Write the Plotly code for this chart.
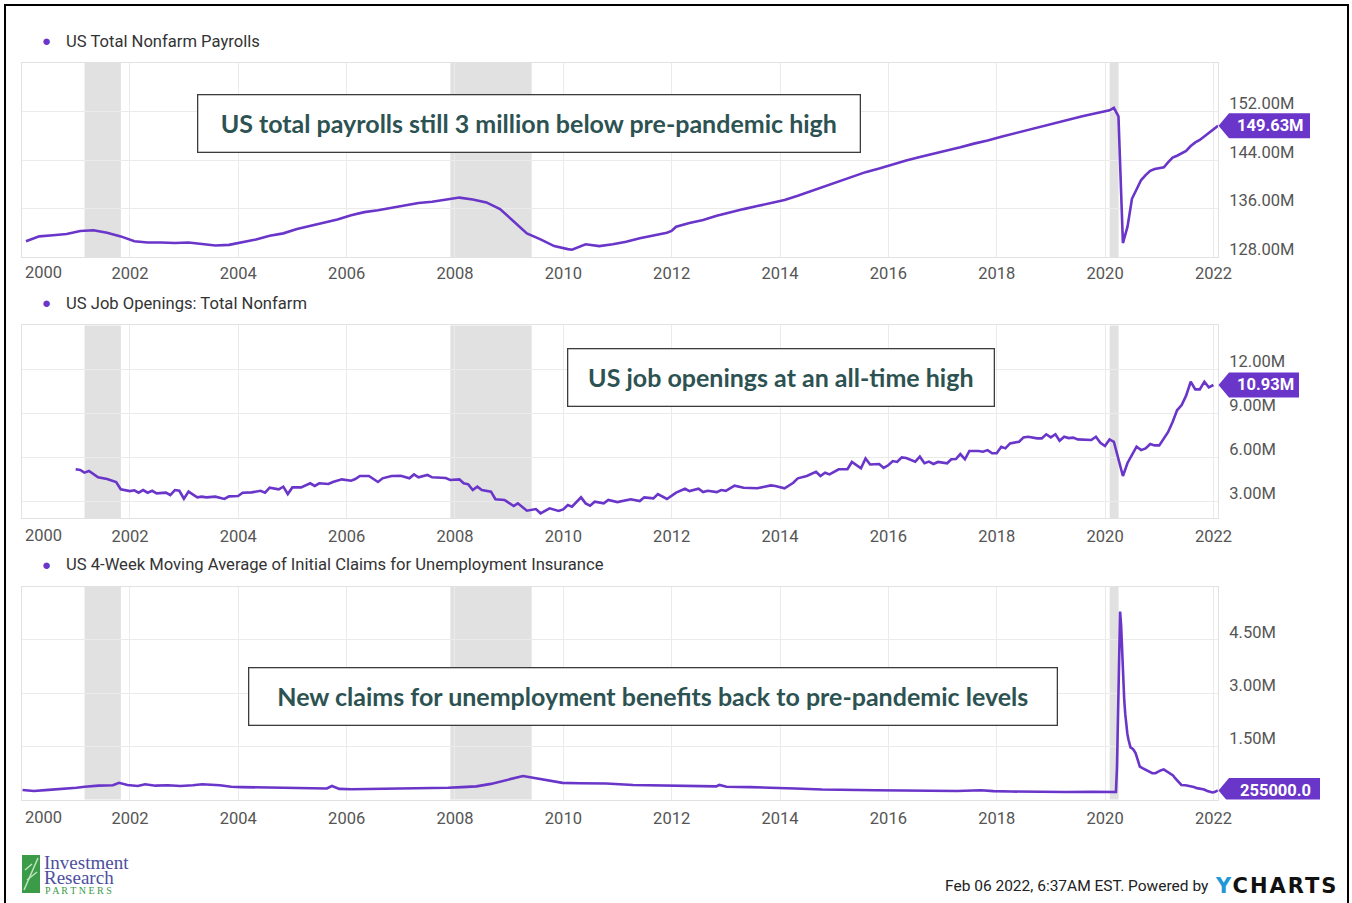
import pandas as pd
import plotly.graph_objects as go

W, H = 1352, 903
PURPLE = "#6a35c9"
TEAL = "#2d5252"

# ---------------- data ----------------
payroll_months = [
    "2000-01", "2000-04", "2000-07", "2000-10", "2001-01", "2001-04", "2001-07", "2001-10",
    "2002-01", "2002-04", "2002-07", "2002-10", "2003-01", "2003-04", "2003-07", "2003-10",
    "2004-01", "2004-04", "2004-07", "2004-10", "2005-01", "2005-04", "2005-07", "2005-10",
    "2006-01", "2006-04", "2006-07", "2006-10", "2007-01", "2007-04", "2007-07", "2007-10",
    "2008-01", "2008-04", "2008-07", "2008-10", "2009-01", "2009-04", "2009-07", "2009-10",
    "2010-01", "2010-02", "2010-05", "2010-08", "2010-11", "2011-02", "2011-05", "2011-08",
    "2011-11", "2011-12", "2012-01", "2012-04", "2012-07", "2012-10", "2013-01", "2013-04",
    "2013-07", "2013-10", "2014-01", "2014-04", "2014-07", "2014-10", "2015-01", "2015-04",
    "2015-07", "2015-10", "2016-01", "2016-04", "2016-07", "2016-10", "2017-01", "2017-04",
    "2017-07", "2017-10", "2018-01", "2018-04", "2018-07", "2018-10", "2019-01", "2019-04",
    "2019-07", "2019-10", "2020-01", "2020-02", "2020-03", "2020-04", "2020-05", "2020-06",
    "2020-07", "2020-08", "2020-09", "2020-10", "2020-11", "2020-12", "2021-01", "2021-02",
    "2021-03", "2021-04", "2021-05", "2021-06", "2021-07", "2021-08", "2021-09", "2021-10",
    "2021-11", "2021-12", "2022-01",
]
payroll_values = [
    130.6, 131.4, 131.6, 131.8, 132.3, 132.4, 132.0, 131.4,
    130.6, 130.4, 130.4, 130.3, 130.4, 130.1, 129.9, 130.0,
    130.4, 130.9, 131.5, 131.9, 132.6, 133.1, 133.7, 134.2,
    134.9, 135.4, 135.7, 136.1, 136.6, 136.9, 137.1, 137.4,
    137.8, 137.5, 137.0, 135.9, 133.9, 131.9, 130.9, 129.8,
    129.3, 129.2, 130.1, 129.8, 130.1, 130.5, 131.1, 131.5,
    132.0, 132.3, 133.0, 133.6, 134.1, 134.8, 135.4, 135.9,
    136.4, 136.9, 137.4, 138.1, 138.9, 139.7, 140.5, 141.2,
    142.0, 142.6, 143.3, 143.9, 144.5, 145.0, 145.6, 146.1,
    146.7, 147.2, 147.85, 148.4, 149.0, 149.6, 150.2, 150.7,
    151.2, 151.7, 152.2, 152.6, 151.2, 130.3, 133.0, 137.6,
    139.2, 140.7, 141.5, 142.2, 142.5, 142.6, 142.8, 143.6,
    144.4, 144.7, 145.1, 145.5, 146.3, 146.9, 147.3, 147.9,
    148.5, 149.1, 149.63,
]

job_months = [
    "2000-12", "2001-01", "2001-02", "2001-03", "2001-05", "2001-07", "2001-09", "2001-10",
    "2001-12", "2002-01", "2002-02", "2002-03", "2002-04", "2002-05", "2002-06", "2002-08",
    "2002-09", "2002-10", "2002-11", "2002-12", "2003-01", "2003-03", "2003-04", "2003-05",
    "2003-07", "2003-09", "2003-10", "2003-12", "2004-01", "2004-03", "2004-05", "2004-06",
    "2004-07", "2004-09", "2004-10", "2004-11", "2004-12", "2005-02", "2005-04", "2005-05",
    "2005-06", "2005-08", "2005-09", "2005-11", "2006-01", "2006-02", "2006-03", "2006-05",
    "2006-07", "2006-08", "2006-10", "2006-12", "2007-02", "2007-03", "2007-04", "2007-06",
    "2007-07", "2007-10", "2007-11", "2008-01", "2008-02", "2008-03", "2008-04", "2008-05",
    "2008-06", "2008-08", "2008-09", "2008-11", "2009-01", "2009-02", "2009-04", "2009-05",
    "2009-06", "2009-07", "2009-09", "2009-11", "2009-12", "2010-01", "2010-02", "2010-04",
    "2010-05", "2010-06", "2010-07", "2010-09", "2010-10", "2010-12", "2011-03", "2011-05",
    "2011-06", "2011-08", "2011-09", "2011-11", "2012-01", "2012-03", "2012-04", "2012-06",
    "2012-07", "2012-08", "2012-10", "2012-11", "2012-12", "2013-02", "2013-04", "2013-07",
    "2013-10", "2013-11", "2014-01", "2014-03", "2014-04", "2014-06", "2014-08", "2014-09",
    "2014-10", "2014-11", "2015-01", "2015-03", "2015-04", "2015-06", "2015-07", "2015-08",
    "2015-10", "2015-11", "2015-12", "2016-01", "2016-02", "2016-03", "2016-04", "2016-06",
    "2016-07", "2016-08", "2016-09", "2016-10", "2016-11", "2017-01", "2017-02", "2017-03",
    "2017-04", "2017-05", "2017-06", "2017-08", "2017-09", "2017-10", "2017-11", "2017-12",
    "2018-01", "2018-02", "2018-03", "2018-05", "2018-06", "2018-07", "2018-09", "2018-10",
    "2018-11", "2018-12", "2019-01", "2019-02", "2019-03", "2019-04", "2019-05", "2019-06",
    "2019-08", "2019-09", "2019-10", "2019-11", "2019-12", "2020-01", "2020-02", "2020-03",
    "2020-04", "2020-05", "2020-06", "2020-07", "2020-08", "2020-09", "2020-10", "2020-11",
    "2020-12", "2021-01", "2021-02", "2021-03", "2021-04", "2021-05", "2021-06", "2021-07",
    "2021-08", "2021-09", "2021-10", "2021-11", "2021-12",
]
job_values = [
    5.17, 5.12, 4.94, 5.05, 4.62, 4.50, 4.30, 3.80,
    3.68, 3.73, 3.57, 3.75, 3.57, 3.70, 3.52, 3.57,
    3.41, 3.75, 3.70, 3.16, 3.64, 3.25, 3.30, 3.25,
    3.30, 3.14, 3.32, 3.34, 3.57, 3.59, 3.70, 3.57,
    3.91, 3.80, 3.98, 3.48, 3.93, 3.93, 4.21, 4.03,
    4.21, 4.16, 4.30, 4.48, 4.39, 4.50, 4.71, 4.71,
    4.30, 4.55, 4.71, 4.73, 4.55, 4.82, 4.62, 4.78,
    4.62, 4.57, 4.44, 4.48, 4.21, 4.14, 3.75, 3.98,
    3.75, 3.64, 3.12, 3.07, 2.66, 2.84, 2.34, 2.38,
    2.45, 2.16, 2.50, 2.32, 2.43, 2.72, 2.61, 3.25,
    2.84, 2.68, 2.95, 2.84, 3.07, 2.93, 3.12, 3.00,
    3.25, 3.18, 3.48, 3.14, 3.57, 3.84, 3.68, 3.84,
    3.61, 3.70, 3.61, 3.75, 3.70, 4.05, 3.91, 3.87,
    4.07, 4.03, 3.87, 4.25, 4.55, 4.71, 5.00, 4.71,
    4.93, 4.82, 5.17, 5.17, 5.67, 5.23, 5.91, 5.50,
    5.53, 5.26, 5.44, 5.73, 5.67, 5.98, 5.94, 5.69,
    6.03, 5.58, 5.69, 5.53, 5.67, 5.58, 5.85, 5.87,
    6.21, 5.85, 6.42, 6.42, 6.37, 6.48, 6.26, 6.26,
    6.71, 6.60, 6.94, 7.05, 7.35, 7.39, 7.28, 7.28,
    7.56, 7.35, 7.56, 7.12, 7.39, 7.30, 7.33, 7.21,
    7.19, 7.17, 7.39, 6.98, 6.76, 7.21, 7.05, 5.90,
    4.71, 5.60, 6.20, 6.71, 6.48, 6.60, 6.90, 6.80,
    6.80, 7.28, 7.70, 8.40, 9.20, 9.56, 10.20, 11.15,
    10.63, 10.63, 11.15, 10.77, 10.93,
]

claims_dates = [
    "2000-01-08", "2000-03-25", "2000-07-01", "2000-10-07", "2001-01-06", "2001-03-03",
    "2001-06-02", "2001-09-08", "2001-10-20", "2001-12-15", "2002-02-23", "2002-04-13",
    "2002-06-22", "2002-09-14", "2002-12-07", "2003-03-01", "2003-05-03", "2003-08-30",
    "2003-11-15", "2004-01-24", "2004-05-01", "2004-08-07", "2004-12-04", "2005-02-12",
    "2005-05-21", "2005-08-20", "2005-09-24", "2005-11-12", "2006-02-04", "2006-07-22",
    "2006-11-11", "2007-03-24", "2007-07-28", "2007-11-17", "2008-02-16", "2008-05-24",
    "2008-08-30", "2008-12-06", "2009-01-31", "2009-03-14", "2009-04-04", "2009-06-20",
    "2009-09-26", "2009-12-26", "2010-04-17", "2010-10-16", "2011-04-16", "2011-10-15",
    "2012-04-14", "2012-10-27", "2012-11-17", "2013-01-05", "2013-06-15", "2013-10-19",
    "2014-04-12", "2014-10-11", "2015-04-11", "2015-10-10", "2016-04-09", "2016-10-08",
    "2017-04-08", "2017-09-16", "2017-12-09", "2018-04-07", "2018-10-06", "2019-04-06",
    "2019-10-05", "2020-01-04", "2020-03-14", "2020-03-21", "2020-03-28", "2020-04-04",
    "2020-04-11", "2020-04-18", "2020-04-25", "2020-05-02", "2020-05-09", "2020-05-16",
    "2020-05-23", "2020-05-30", "2020-06-06", "2020-06-13", "2020-06-20", "2020-07-04",
    "2020-07-11", "2020-07-25", "2020-08-01", "2020-08-15", "2020-08-22", "2020-09-12",
    "2020-10-03", "2020-10-24", "2020-11-14", "2020-12-05", "2020-12-19", "2021-01-09",
    "2021-01-30", "2021-02-20", "2021-03-13", "2021-04-03", "2021-04-17", "2021-05-08",
    "2021-05-29", "2021-06-26", "2021-07-24", "2021-08-21", "2021-09-11", "2021-10-09",
    "2021-10-30", "2021-11-20", "2021-12-04", "2021-12-25", "2022-01-08", "2022-01-22",
    "2022-01-29",
]
claims_values = [
    0.27, 0.24, 0.27, 0.29, 0.33, 0.36,
    0.39, 0.40, 0.47, 0.41, 0.38, 0.43,
    0.39, 0.40, 0.38, 0.40, 0.43, 0.40,
    0.36, 0.35, 0.34, 0.33, 0.33, 0.31,
    0.32, 0.31, 0.38, 0.30, 0.29, 0.30,
    0.31, 0.31, 0.31, 0.33, 0.35, 0.37,
    0.44, 0.53, 0.58, 0.64, 0.66, 0.60,
    0.54, 0.47, 0.46, 0.45, 0.41, 0.40,
    0.38, 0.37, 0.41, 0.36, 0.35, 0.34,
    0.31, 0.28, 0.28, 0.26, 0.255, 0.25,
    0.24, 0.26, 0.235, 0.225, 0.21, 0.21,
    0.215, 0.215, 0.21, 0.90, 2.40, 3.90,
    5.30, 4.90, 4.03, 3.40, 2.80, 2.40,
    2.05, 1.85, 1.70, 1.55, 1.47, 1.43,
    1.40, 1.30, 1.20, 1.00, 0.93, 0.88,
    0.83, 0.78, 0.74, 0.74, 0.78, 0.82,
    0.85, 0.80, 0.74, 0.68, 0.60, 0.50,
    0.41, 0.40, 0.38, 0.35, 0.32, 0.305,
    0.28, 0.24, 0.22, 0.20, 0.21, 0.23,
    0.255,
]

recessions = [("2001-03-01", "2001-11-01"), ("2007-12-01", "2009-06-01"), ("2020-02-01", "2020-04-01")]
year_ticks = list(range(2002, 2023, 2))

titles = [
    "US Total Nonfarm Payrolls",
    "US Job Openings: Total Nonfarm",
    "US 4-Week Moving Average of Initial Claims for Unemployment Insurance",
]
callouts = [
    "US total payrolls still 3 million below pre-pandemic high",
    "US job openings at an all-time high",
    "New claims for unemployment benefits back to pre-pandemic levels",
]
y_ticks = [[128, 136, 144, 152], [3, 6, 9, 12], [1.5, 3.0, 4.5]]
y_ranges = [[128, 160], [1.84, 15], [0, 6]]


def month_end(months):
    d = pd.to_datetime(months, format="%Y-%m") + pd.offsets.MonthEnd(0)
    return d.strftime("%Y-%m-%d").tolist()


series_x = [month_end(payroll_months), month_end(job_months), claims_dates]
series_y = [payroll_values, job_values, claims_values]
tag_texts = [f"{payroll_values[-1]:.2f}M", f"{job_values[-1]:.2f}M", f"{claims_values[-1] * 1e6:.1f}"]
tag_widths = [81, 70, 91]

# ---------------- layout geometry (pixels) ----------------
def px(x):
    return x / W


def py(y):
    return 1 - y / H


X0, X1 = 21.5, 1218
panel_px = [(63, 257), (325.4, 518), (586.7, 799.5)]
xlabel_gap = [15, 17, 18]
callout_box = [(197, 860, 95, 153), (567, 994, 348, 406), (248, 1057, 667, 725)]

FONT = "Roboto"
TICK_SIZE = 16.5
fig = go.Figure()
layout = dict(
    template="none",
    width=W, height=H, margin=dict(l=0, r=0, t=0, b=0, pad=0, autoexpand=False),
    paper_bgcolor="white", plot_bgcolor="white", showlegend=False,
    font=dict(family=FONT, size=16, color="#555"),
)
shapes, annotations = [], []


def note(x, y, text, xanchor="center", xref="paper", yref="paper", **font):
    annotations.append(dict(x=x, y=y, xref=xref, yref=yref, text=text, showarrow=False,
                            xanchor=xanchor, yanchor="middle", font=font))


for i in range(3):
    sfx = "" if i == 0 else str(i + 1)
    xa, ya = "x" + sfx, "y" + sfx
    top, bot = panel_px[i]
    fig.add_trace(go.Scatter(
        x=series_x[i], y=series_y[i], mode="lines", xaxis=xa, yaxis=ya,
        line=dict(color=PURPLE, width=2.6), hoverinfo="skip",
    ))
    layout["xaxis" + sfx] = dict(
        domain=[px(X0), px(X1)], anchor=ya, type="date", automargin=False,
        range=["2000-01-01", "2022-01-31"],
        tickvals=[f"{y}-01-01" for y in year_ticks], ticktext=[str(y) for y in year_ticks],
        showgrid=True, gridcolor="#ebebeb", gridwidth=1,
        showline=True, linecolor="#e2e2e2", linewidth=1, mirror=True,
        zeroline=False, ticks="", tickfont=dict(family=FONT, size=TICK_SIZE, color="#555"),
        ticklabelstandoff=int(xlabel_gap[i] - 14), fixedrange=True,
    )
    ticks = y_ticks[i]
    layout["yaxis" + sfx] = dict(
        domain=[py(bot), py(top)], anchor=xa, side="right", automargin=False,
        range=y_ranges[i], tickvals=ticks, ticktext=[f"{t:.2f}M" for t in ticks],
        showgrid=True, gridcolor="#ebebeb", gridwidth=1,
        showline=True, linecolor="#e2e2e2", linewidth=1, mirror=True,
        zeroline=False, ticks="", tickfont=dict(family=FONT, size=TICK_SIZE, color="#555"),
        ticklabelstandoff=7, ticklabelshift=-8, fixedrange=True,
    )
    for a, b in recessions:
        shapes.append(dict(type="rect", xref=xa, yref=ya + " domain", x0=a, x1=b, y0=0, y1=1,
                           fillcolor="#e1e1e1", line=dict(width=0), layer="below"))
    # 2000 label (shifted inside, as in the reference)
    annotations.append(dict(x="2000-01-01", xref=xa, y=py(bot + xlabel_gap[i]), yref="paper", text="2000",
                            showarrow=False, xanchor="left", yanchor="middle", xshift=1,
                            font=dict(family=FONT, size=TICK_SIZE, color="#555")))
    # series title with dot
    ty = top - 22
    note(px(46), py(ty), "●", size=15, color=PURPLE)
    note(px(64), py(ty), titles[i], xanchor="left", family=FONT, size=16.6, color="#333")
    # callout box
    bx0, bx1, by0, by1 = callout_box[i]
    annotations.append(dict(x=px((bx0 + bx1) / 2), y=py((by0 + by1) / 2), xref="paper", yref="paper",
                            text=f"<b>{callouts[i]}</b>", showarrow=False,
                            xanchor="center", yanchor="middle",
                            width=bx1 - bx0 - 2, height=by1 - by0 - 2, borderpad=0,
                            bgcolor="white", bordercolor="#3c3c3c", borderwidth=1.3,
                            font=dict(family="Lato", size=25, color=TEAL)))
    # last-value tag
    v = series_y[i][-1]
    r0, r1 = y_ranges[i]
    h = 12.5 * (r1 - r0) / (bot - top)
    xt, xr, xe = px(X1 + 0.5), px(1229), px(1229 + tag_widths[i])
    path = f"M {xt},{v} L {xr},{v + h} L {xe},{v + h} L {xe},{v - h} L {xr},{v - h} Z"
    shapes.append(dict(type="path", xref="paper", yref=ya, path=path,
                       fillcolor=PURPLE, line=dict(width=0), layer="above"))
    note((xr + xe) / 2 + px(1), v, f"<b>{tag_texts[i]}</b>", yref=ya,
         family=FONT, size=16.5, color="white")

# outer frame
shapes.append(dict(type="rect", xref="paper", yref="paper", x0=px(5), x1=px(1348), y0=py(908), y1=py(5),
                   line=dict(color="black", width=2), fillcolor="rgba(0,0,0,0)", layer="above"))

# logo (Investment Research Partners)
shapes.append(dict(type="rect", xref="paper", yref="paper", x0=px(22), x1=px(40), y0=py(893), y1=py(855),
                   fillcolor="#3b9b48", line=dict(width=0)))
for (ax0, ay0, ax1, ay1) in [(24, 890, 38, 858), (27, 880, 37, 872), (25, 870, 32, 864)]:
    shapes.append(dict(type="line", xref="paper", yref="paper", x0=px(ax0), y0=py(ay0), x1=px(ax1), y1=py(ay1),
                       line=dict(color="#bfe3bf", width=1.5)))
note(px(42), py(862), "Investment", xanchor="left", family="Liberation Serif", size=19, color="#4b4f9e")
note(px(42), py(877), "Research", xanchor="left", family="Liberation Serif", size=19, color="#4b4f9e")
note(px(43), py(890), "P A R T N E R S", xanchor="left", family="Liberation Serif", size=10, color="#3b9b48")

# footer
note(px(1211), py(886), "Feb 06 2022, 6:37AM EST. Powered by", xanchor="right",
     family=FONT, size=15.5, color="#222")
note(px(1213), py(886), "<b><span style='color:#1f98d8;letter-spacing:2px'>Y</span>"
     "<span style='letter-spacing:2px'>CHARTS</span></b>", xanchor="left",
     family="DejaVu Sans", size=21, color="#111")

layout["shapes"] = shapes
layout["annotations"] = annotations
fig.update_layout(**layout)
fig.write_html("out.html")
